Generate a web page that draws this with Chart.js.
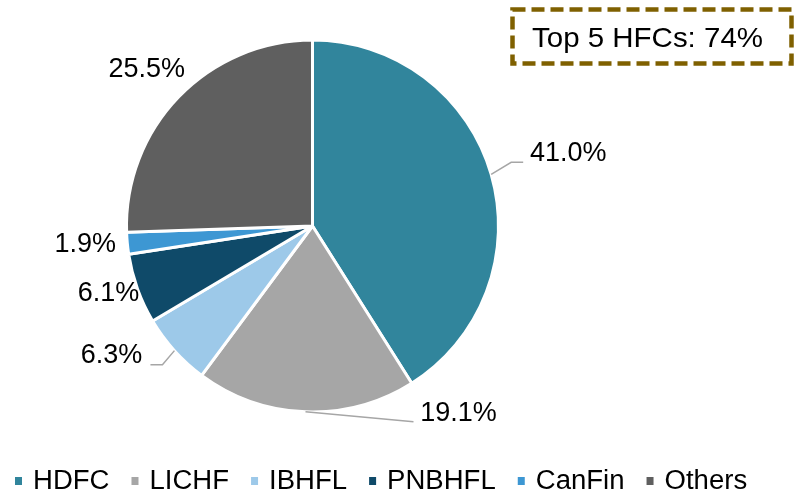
<!DOCTYPE html>
<html>
<head>
<meta charset="utf-8">
<script src="https://cdn.jsdelivr.net/npm/chart.js@4"></script>
<style>
  html, body { margin: 0; padding: 0; background: #fff; }
  #wrap { width: 794px; height: 494px; position: relative; }
</style>
</head>
<body>
<div id="wrap"><canvas id="shareChart" width="794" height="494"></canvas></div>
<script>
// market share of housing finance companies
const categories = ['HDFC', 'LICHF', 'IBHFL', 'PNBHFL', 'CanFin', 'Others'];
const shares = [41.0, 19.1, 6.3, 6.1, 1.9, 25.5];
const sliceColors = ['#31859C', '#A6A6A6', '#9DC9E9', '#0F4A69', '#3D97D3', '#5F5F5F'];
const calloutText = 'Top 5 HFCs: 74%';

// label placement relative to the slice's outer edge point (dx, dy = text centre)
const labelOffsets = [
  { dx: 77, dy: -21, leader: [[20, -12], [32, -12]] },
  { dx: 153, dy: 2, leader: [[108, 10]] },
  { dx: -63, dy: 5, leader: [[-12, 14], [-24, 14]] },
  { dx: -29, dy: 5 },
  { dx: -42, dy: 1 },
  { dx: -32, dy: -27 }
];

const FONT = '"Liberation Sans", Arial, sans-serif';

const labelPlugin = {
  id: 'sliceLabels',
  afterDatasetsDraw(chart) {
    const ctx = chart.ctx;
    const arcs = chart.getDatasetMeta(0).data;
    ctx.save();
    arcs.forEach((arc, i) => {
      const mid = (arc.startAngle + arc.endAngle) / 2;
      const ex = arc.x + Math.cos(mid) * arc.outerRadius;
      const ey = arc.y + Math.sin(mid) * arc.outerRadius;
      const off = labelOffsets[i];
      if (off.leader) {
        ctx.strokeStyle = '#A6A6A6';
        ctx.lineWidth = 1.5;
        ctx.beginPath();
        ctx.moveTo(ex, ey);
        off.leader.forEach(p => ctx.lineTo(ex + p[0], ey + p[1]));
        ctx.stroke();
      }
      ctx.fillStyle = '#000';
      ctx.font = '27px ' + FONT;
      ctx.textAlign = 'center';
      ctx.textBaseline = 'middle';
      ctx.fillText(shares[i].toFixed(1) + '%', ex + off.dx, ey + off.dy);
    });
    ctx.restore();
  },
  afterDraw(chart) {
    const ctx = chart.ctx;
    ctx.save();
    // legend along the bottom
    ctx.font = '27px ' + FONT;
    const box = 7, gap = 11, space = 22, sx = 1.02;
    let x = 15;
    ctx.textBaseline = 'alphabetic';
    ctx.textAlign = 'left';
    categories.forEach((c, i) => {
      const w = ctx.measureText(c).width * sx;
      ctx.fillStyle = sliceColors[i];
      ctx.fillRect(x, 477, box, 8);
      ctx.fillStyle = '#000';
      ctx.save();
      ctx.translate(x + box + gap, 489);
      ctx.scale(sx, 1);
      ctx.fillText(c, 0, 0);
      ctx.restore();
      x += box + gap + w + space;
    });
    // dashed callout box
    ctx.strokeStyle = '#7F6000';
    ctx.lineWidth = 4.5;
    ctx.setLineDash([13, 6]);
    ctx.strokeRect(512.5, 9.5, 279, 54);
    ctx.setLineDash([]);
    ctx.fillStyle = '#000';
    ctx.font = '28px ' + FONT;
    ctx.textAlign = 'left';
    const tw = ctx.measureText(calloutText).width;
    ctx.translate(532, 47);
    ctx.scale(231 / tw, 1);
    ctx.fillText(calloutText, 0, 0);
    ctx.restore();
  }
};

const ctx = document.getElementById('shareChart').getContext('2d');
const shareChart = new Chart(ctx, {
  type: 'pie',
  data: {
    labels: categories,
    datasets: [{
      data: shares,
      backgroundColor: sliceColors,
      borderColor: '#ffffff',
      borderWidth: 3
    }]
  },
  options: {
    responsive: false,
    animation: false,
    layout: { padding: { left: 125, right: 294, top: 38.5, bottom: 80.5 } },
    plugins: {
      legend: { display: false },
      tooltip: { enabled: false }
    }
  },
  plugins: [labelPlugin]
});
</script>
</body>
</html>
